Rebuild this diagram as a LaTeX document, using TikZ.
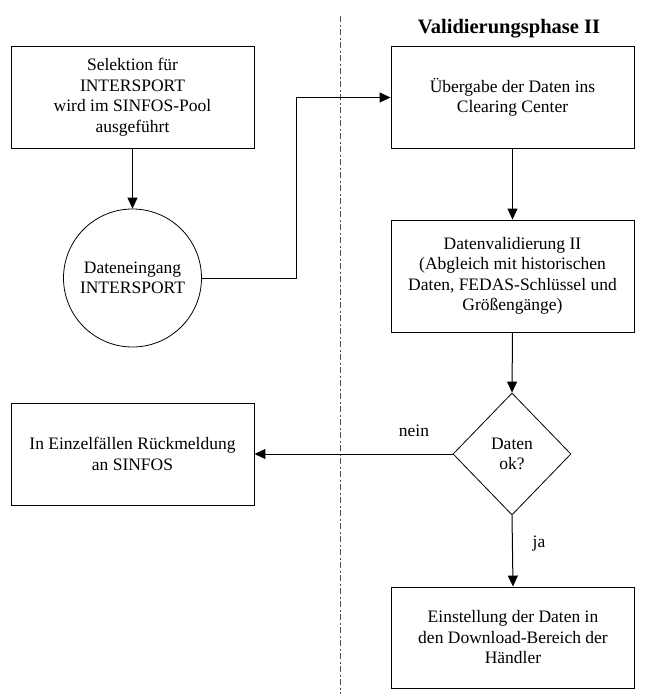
\documentclass[tikz,border=0pt]{standalone}
\usepackage{fontspec}
\setmainfont{Liberation Serif}
\usetikzlibrary{arrows.meta,shapes.geometric}
\newcommand\bodyfs{\fontsize{17.5}{20.5}\selectfont}
\begin{document}
\begin{tikzpicture}[x=1pt,y=-1pt,
  box/.style={draw, line width=0.9pt, minimum width=243pt, minimum height=102pt, align=center, inner sep=0pt, font=\bodyfs},
  arr/.style={draw, line width=1pt, -{Triangle[length=11pt,width=10pt]}},
  lbl/.style={font=\bodyfs, inner sep=0pt},
  sep/.style={draw=black!70, line width=1pt, dash pattern=on 6pt off 2.5pt on 2pt off 2.5pt}]
\useasboundingbox (0,0) rectangle (669,694);
\coordinate (septop) at (340,16);
\coordinate (sepbot) at (340,694);
\draw[sep] (septop) -- (sepbot);
\node[font=\fontsize{20.5}{23}\selectfont\bfseries, anchor=base] (title) at (509,33) {Validierungsphase II};

\node[box] (b1) at (132.5,97) {Selektion für\\INTERSPORT\\wird im SINFOS-Pool\\ausgeführt};
\node[draw, circle, line width=0.8pt, minimum size=138pt, inner sep=0pt, align=center, font=\bodyfs] (circ) at (132.5,278) {Dateneingang\\INTERSPORT};
\node[box] (b2) at (512.5,97.5) {Übergabe der Daten ins\\Clearing Center};
\node[box, minimum height=112pt] (b3) at (512.5,276) {Datenvalidierung II\\(Abgleich mit historischen\\Daten, FEDAS-Schlüssel und\\Größengänge)};
\node[draw, diamond, line width=0.8pt, minimum width=118pt, minimum height=122pt, inner sep=0pt, align=center, font=\bodyfs] (dia) at (512,454) {Daten\\ok?};
\node[box] (b5) at (132.5,454) {In Einzelfällen Rückmeldung\\an SINFOS};
\node[box, minimum height=101pt] (b4) at (513,637.5) {Einstellung der Daten in\\den Download-Bereich der\\Händler};

\coordinate (k) at (296,278);
\draw[arr] (b1.south) -- (circ.north);
\draw[arr] (circ.east) -- (k) |- (b2.west);
\draw[arr] (b2.south) -- (b3.north);
\draw[arr] (b3.south) -- (dia.north);
\draw[arr] (dia.west) -- (b5.east);
\draw[arr] (dia.south) -- (b4.north);
\node[lbl] (nein) at (414,431) {nein};
\node[lbl] (ja) at (539,544) {ja};
\end{tikzpicture}
\end{document}
